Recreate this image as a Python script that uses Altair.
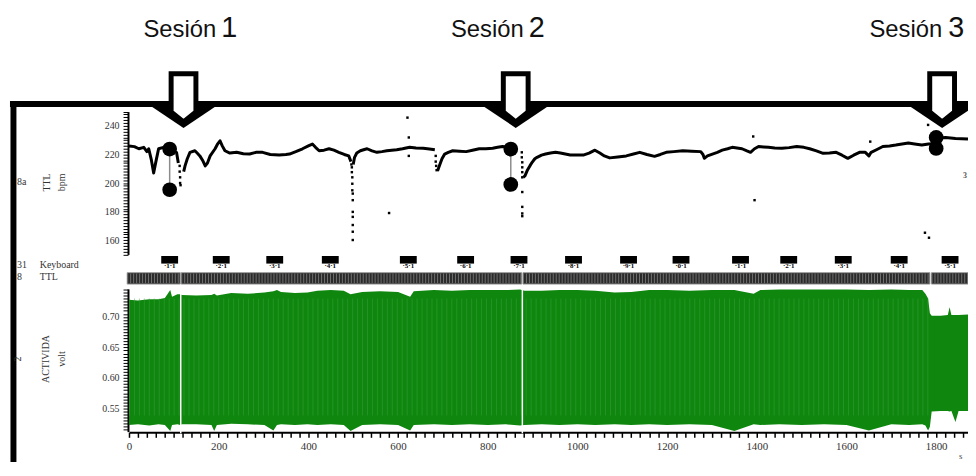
import altair as alt
import pandas as pd

# ---------------- data ----------------
# heart-rate trace (bpm) in separate recorded segments
seg0_t = [0, 12, 22, 33, 40, 44, 50, 55, 60, 66, 77, 85, 92, 100, 106, 110]
seg0_v = [226, 225.5, 224, 225, 222, 224, 216, 207, 215, 224, 225, 224, 223, 222, 221.5, 214]
seg1_t = [122, 125, 130, 136, 147, 152, 158, 164, 170, 175, 181, 192, 197, 203, 208, 214, 225, 240,
          255, 269, 283, 298, 315, 335, 350, 358, 372, 387, 400, 409, 416, 424, 435, 446, 457, 468,
          480, 490, 495]
seg1_v = [208, 212, 217, 221.5, 222.6, 221, 219, 216, 212, 214, 219, 224, 227, 229.6, 226, 222.6, 221,
          221.5, 220.5, 220.3, 221.5, 221.5, 220, 219.6, 220, 220.3, 222, 224, 226, 227.3, 225, 222.6,
          223, 224, 223, 221.5, 220, 219, 215]
seg2_t = [500, 503, 508, 516, 525, 531, 542, 553, 564, 575, 586, 597, 610, 626, 640, 656, 670, 682]
seg2_v = [213, 218, 221, 222.6, 223.5, 224, 222.5, 221.5, 222, 222.6, 223, 223.3, 224, 225, 224.5,
          224.3, 223.8, 223.3]
seg3_t = [688, 692, 698, 704, 712, 722, 737, 752, 766, 781, 796, 811, 822, 833, 845, 851]
seg3_v = [208.5, 212, 217, 220.3, 221.5, 222.6, 222.3, 222, 223, 224, 224, 224.3, 225, 225.6, 225, 224.5]
seg4_t = [879, 883, 888, 894, 899, 905, 910, 920, 929, 940, 951, 962, 973, 984, 995, 1013, 1026, 1039,
          1050, 1060, 1072, 1090, 1109, 1125, 1139, 1155, 1172, 1185, 1198, 1215, 1235, 1255, 1275,
          1280, 1283, 1290, 1301, 1312, 1323, 1335, 1345, 1356, 1367, 1378, 1386, 1395, 1404, 1415,
          1426, 1440, 1456, 1472, 1489, 1505, 1518, 1533, 1548, 1562, 1577, 1590, 1603, 1616, 1629,
          1642, 1650, 1655, 1668, 1681, 1696, 1710, 1724, 1738, 1752, 1768, 1783, 1795]
seg4_v = [204, 205, 208.7, 212, 214.5, 217, 218, 219.5, 220.3, 221, 221.5, 221, 220.3, 219.6, 219.6,
          219.6, 221, 223, 221, 219, 217.6, 218.3, 219, 220.3, 221.5, 220, 218.7, 220, 221.5, 222,
          222.6, 222.3, 222, 220, 217.3, 219, 220.3, 221.5, 223, 224, 225, 224.5, 224, 222.5, 221.5,
          224, 225.6, 225.3, 225, 224.6, 224.3, 224.8, 225.6, 225, 224, 222.5, 220.8, 221, 221.5,
          219.5, 217.3, 219.5, 221.5, 221.5, 219, 221.5, 223.5, 225.6, 226, 226.6, 227.3, 228, 227.3,
          226.6, 227.3, 227.5]
seg5_t = [1806, 1821, 1843, 1871]
seg5_v = [231.5, 231.9, 231.2, 230.8]

# isolated beats (dots)
dot_t = [113, 113, 114, 114, 115, 496, 497, 497, 498, 498, 498, 499, 499, 499, 499, 499, 499, 499,
         580, 621, 624, 624, 684, 684, 685, 686, 876, 876, 877, 877, 877, 877, 877, 877, 877, 877,
         1392, 1395, 1653, 1775, 1782, 1784]
dot_v = [212, 208, 204, 200, 198.5, 213, 211, 207.6, 204, 199.5, 194.9, 192.6, 188, 179.8, 176.3,
         170.6, 165.9, 160.1, 179, 245.8, 231.9, 219, 219, 215, 212, 209, 221.5, 218, 214.5, 211,
         207.6, 204, 193.7, 183.3, 178.7, 176.8, 232.6, 188, 229, 165.2, 240.7, 161.7]

# session cursors (pair of big dots)
sess_t = [90.7, 851.4, 1800]
sess_hi = [223.8, 223.8, 231.9]
sess_lo = [195.3, 199.0, 224.2]
arrow_t = [121.6, 862.4, 1813.3]
sess_names = ["1", "2", "3"]

# keyboard events
kb_t = [90.7, 205.7, 325, 448.9, 622.9, 750.7, 869.7, 991.3, 1114, 1231, 1363.7, 1471.2,
        1592.8, 1717.5, 1831]
kb_lab = ["·1·1", "·2·1", "·3·1", "·4·1", "·5·1", "·6·1", "·7·1", "·8·1", "·9·1", "·0·1",
          "·1·1", "·2·1", "·3·1", "·4·1", "·5·1"]

# TTL channel blocks
ttl_t0 = [-4, 116.5, 878.6, 1789.6]
ttl_t1 = [114.3, 875.7, 1786, 1871]
gap_t = [115.4, 877.2]

# ACTIVIDA signal envelope (volt)
sig_t = [0, 20, 45, 66, 80, 92, 96, 108, 114, 118, 150, 184, 190, 196, 228, 265, 302, 322, 330, 339,
         370, 398, 420, 450, 479, 494, 520, 560, 600, 627, 635, 680, 720, 760, 800, 840, 872, 882,
         920, 960, 1000, 1040, 1083, 1120, 1160, 1200, 1250, 1300, 1350, 1393, 1408, 1450, 1500,
         1550, 1600, 1650, 1700, 1740, 1769, 1776, 1782, 1786, 1790, 1810, 1826, 1830, 1834, 1843,
         1850, 1871]
sig_hi = [0.728, 0.727, 0.729, 0.729, 0.731, 0.744, 0.733, 0.737, 0.737, 0.736,
          0.735, 0.736, 0.738, 0.735, 0.739, 0.738, 0.740, 0.742, 0.744, 0.741,
          0.739, 0.740, 0.743, 0.744, 0.743, 0.737, 0.741, 0.742, 0.741, 0.733,
          0.742, 0.744, 0.743, 0.744, 0.744, 0.744, 0.745, 0.743, 0.743, 0.744,
          0.744, 0.743, 0.740, 0.741, 0.744, 0.744, 0.743, 0.744, 0.744, 0.738,
          0.744, 0.745, 0.745, 0.745, 0.745, 0.744, 0.745, 0.744, 0.744, 0.738,
          0.730, 0.706, 0.702, 0.702, 0.703, 0.716, 0.703, 0.703, 0.703, 0.704]
sig_lo = [0.523, 0.524, 0.522, 0.524, 0.523, 0.513, 0.523, 0.524, 0.523, 0.524,
          0.524, 0.523, 0.513, 0.523, 0.525, 0.524, 0.523, 0.514, 0.523, 0.524,
          0.523, 0.524, 0.523, 0.524, 0.523, 0.513, 0.523, 0.524, 0.523, 0.514,
          0.523, 0.524, 0.523, 0.524, 0.523, 0.524, 0.522, 0.523, 0.524, 0.523,
          0.524, 0.523, 0.524, 0.523, 0.524, 0.523, 0.524, 0.523, 0.513, 0.524,
          0.523, 0.524, 0.523, 0.524, 0.523, 0.514, 0.524, 0.523, 0.524, 0.522,
          0.514, 0.520, 0.545, 0.546, 0.546, 0.545, 0.546, 0.528, 0.546, 0.546]
stripe_span = [0, 1784]

# axis tick values
x_ticks = list(range(0, 1861, 20))
bpm_ticks = list(range(150, 251, 2))
volt_ticks = [round(0.515 + 0.005 * i, 3) for i in range(47)]
volt_labels = [0.55, 0.6, 0.65, 0.7]

# ---------------- tables ----------------
segs = [(seg0_t, seg0_v), (seg1_t, seg1_v), (seg2_t, seg2_v), (seg3_t, seg3_v),
        (seg4_t, seg4_v), (seg5_t, seg5_v)]
rows = []
for i, (ts, vs) in enumerate(segs):
    assert len(ts) == len(vs)
    rows += [{"t": t, "v": v, "seg": i} for t, v in zip(ts, vs)]
bpm_df = pd.DataFrame(rows)
assert len(dot_t) == len(dot_v)
dots_df = pd.DataFrame({"t": dot_t, "v": dot_v})
sess_df = pd.DataFrame({"t": sess_t, "hi": sess_hi, "lo": sess_lo})
circ_df = pd.DataFrame({"t": sess_t + sess_t, "v": sess_hi + sess_lo})
arrow_df = pd.DataFrame({"t": arrow_t, "name": sess_names})
kb_df = pd.DataFrame({"t": kb_t, "lab": kb_lab})
ttl_df = pd.DataFrame({"t": ttl_t0, "t1": ttl_t1})
gap_df = pd.DataFrame({"t": gap_t})
assert len(sig_t) == len(sig_hi) == len(sig_lo)
sig_df = pd.DataFrame({"t": sig_t, "hi": sig_hi, "lo": sig_lo})
stripe_df = pd.DataFrame({"t": [stripe_span[0]], "t1": [stripe_span[1]]})
one = pd.DataFrame({"k": [0]})

# ---------------- styling ----------------
W, H = 846, 426
SERIF = "Liberation Serif"
SANS = "Liberation Sans"
GREEN = "#0f870f"

xs = alt.Scale(domain=[0, 1871], nice=False, zero=False)
bpm_scale = alt.Scale(domain=[150, 250], range=[246.6, 102.6], nice=False, zero=False)
volt_scale = alt.Scale(domain=[0.512, 0.746], range=[425.3, 281.3], nice=False, zero=False)

common_axis = dict(title=None, grid=False, tickColor="black", domainColor="black",
                   labelFont=SERIF, labelColor="#333", labelOverlap=False,
                   labelBound=False, labelFlush=False)

bpm_axis = alt.Axis(orient="left", values=bpm_ticks, offset=1, tickSize=5, tickWidth=1,
                    domainWidth=2, labelFontSize=10, labelPadding=4,
                    labelExpr="(datum.value >= 160 && datum.value <= 240 && datum.value % 20 == 0) ? format(datum.value, 'd') : ''",
                    **common_axis)
volt_axis = alt.Axis(orient="left", values=volt_ticks, offset=1, tickSize=5, tickWidth=1,
                     domainWidth=2, labelFontSize=10, labelPadding=4,
                     labelExpr="indexof(" + str(volt_labels) + ", datum.value) >= 0 ? format(datum.value, '.2f') : ''",
                     **common_axis)
x_axis = alt.Axis(orient="bottom", values=x_ticks, tickSize=5, tickWidth=1.5, domainWidth=2,
                  labelFontSize=11, labelPadding=3,
                  labelExpr="datum.value % 200 == 0 ? format(datum.value, 'd') : ''",
                  **common_axis)

# shared time axis: every layer carries the same axis definition so they merge into one
X = alt.X("t:Q", scale=xs, axis=x_axis)

# ---------------- bpm panel ----------------
bpm_line = alt.Chart(bpm_df).mark_line(color="black", strokeWidth=3, strokeJoin="round").encode(
    x=X, y=alt.Y("v:Q", scale=bpm_scale, axis=bpm_axis), detail="seg:N"
)
bpm_dots = alt.Chart(dots_df).mark_square(size=6, color="black", opacity=1).encode(
    x=X, y=alt.Y("v:Q", scale=bpm_scale, axis=None)
)
sess_rule = alt.Chart(sess_df).mark_rule(color="#8c8c8c", strokeWidth=1.5).encode(
    x=X, y=alt.Y("hi:Q", scale=bpm_scale, axis=None), y2="lo:Q"
)
sess_circ = alt.Chart(circ_df).mark_circle(size=220, color="black", opacity=1).encode(
    x=X, y=alt.Y("v:Q", scale=bpm_scale, axis=None)
)

# ---------------- ACTIVIDA panel ----------------
signal = alt.Chart(sig_df).mark_area(color=GREEN, opacity=1).encode(
    x=X,
    y=alt.Y("hi:Q", scale=volt_scale, axis=volt_axis),
    y2="lo:Q",
)
stripes = alt.Chart(stripe_df).mark_rule(color="#3fa33f", strokeWidth=118, strokeDash=[1, 4],
                                         opacity=0.45).encode(
    x=X, x2="t1:Q", y=alt.value(350)
)
gaps = alt.Chart(gap_df).mark_rule(color="white", strokeWidth=1.5).encode(
    x=X, y=alt.value(281), y2=alt.value(427)
)

# ---------------- TTL / keyboard rows ----------------
ttl_bar = alt.Chart(ttl_df).mark_rect(fill="#2a2a2a", stroke="#9a9a9a", strokeWidth=1).encode(
    x=X, x2="t1:Q", y=alt.value(265), y2=alt.value(276.5)
)
ttl_tex = alt.Chart(ttl_df).mark_rule(color="#707070", strokeWidth=10, strokeDash=[1, 2]).encode(
    x=X, x2="t1:Q", y=alt.value(270.75)
)
RECT = "M -1 -0.45 L 1 -0.45 L 1 0.45 L -1 0.45 Z"
kb_box = alt.Chart(kb_df).mark_point(shape=RECT, size=289, filled=True, color="black",
                                     opacity=1, strokeWidth=0).encode(x=X, y=alt.value(252))
kb_txt = alt.Chart(kb_df).mark_text(font=SERIF, fontSize=7, fontWeight="bold", color="black",
                                    baseline="middle", align="center").encode(
    x=X, y=alt.value(258.5), text="lab:N")

# ---------------- frame, arrows, labels ----------------
frame_top = alt.Chart(one).mark_rule(color="black", strokeWidth=6).encode(
    x=alt.value(-120), x2=alt.value(860), y=alt.value(95))
frame_left = alt.Chart(one).mark_rule(color="black", strokeWidth=6).encode(
    x=alt.value(-116.5), y=alt.value(92), y2=alt.value(470))

HEAD = "M -0.975 0.025 L 0.975 0.025 L 0 0.675 Z"
SHAFT = "M -0.3125 -0.6875 L 0.3125 -0.6875 L 0.3125 0.275 L 0 0.525 L -0.3125 0.275 Z"
arrow_head = alt.Chart(arrow_df).mark_point(shape=HEAD, size=6400, filled=True, color="black",
                                            opacity=1, strokeWidth=0).encode(x=X, y=alt.value(92))
arrow_shaft = alt.Chart(arrow_df).mark_point(shape=SHAFT, size=6400, filled=True, fill="white",
                                             stroke="black", strokeWidth=5, opacity=1,
                                             fillOpacity=1, strokeOpacity=1).encode(
    x=X, y=alt.value(92))


def label(text, x, y, size=10, align="left", angle=0, font=SERIF, color="#333",
          baseline="middle", weight="normal"):
    return alt.Chart(one).mark_text(text=text, font=font, fontSize=size, align=align,
                                    angle=angle, color=color, baseline=baseline,
                                    fontWeight=weight).encode(x=alt.value(x), y=alt.value(y))


texts = [
    label("Sesión", 88, 27, size=24, align="right", font=SANS, color="#111", baseline="alphabetic"),
    label(sess_names[0], 93, 27, size=29, font=SANS, color="#111", baseline="alphabetic"),
    label("Sesión", 398, 27, size=24, align="right", font=SANS, color="#111", baseline="alphabetic"),
    label(sess_names[1], 403, 27, size=29, font=SANS, color="#111", baseline="alphabetic"),
    label("Sesión", 820, 27, size=24, align="right", font=SANS, color="#111", baseline="alphabetic"),
    label(sess_names[2], 826, 27, size=29, font=SANS, color="#111", baseline="alphabetic"),
    label("8a", -113, 174),
    label("TTL", -83, 174, align="center", angle=270),
    label("bpm", -68, 174, align="center", angle=270),
    label("31", -113, 257),
    label("Keyboard", -90, 257),
    label("8", -113, 269),
    label("TTL", -90, 269),
    label("2", -112, 352, align="center", angle=270),
    label("ACTIVIDA", -84, 352, align="center", angle=270),
    label("volt", -68, 352, align="center", angle=270),
    label("3", 841, 168, size=8, weight="bold", color="#555"),
    label("s", 837, 450, size=9, color="#444"),
]

chart = alt.layer(
    bpm_line, signal, stripes, gaps, ttl_bar, ttl_tex, kb_box, kb_txt,
    bpm_dots, sess_rule, sess_circ,
    frame_top, frame_left, arrow_head, arrow_shaft, *texts
).resolve_scale(y="independent").properties(
    width=W, height=H,
    autosize=alt.AutoSizeParams(type="none"),
    padding={"left": 122, "top": 0, "right": 0, "bottom": 28},
).configure_view(stroke=None)

chart.save("out.html", embed_options={"renderer": "svg", "actions": False})
